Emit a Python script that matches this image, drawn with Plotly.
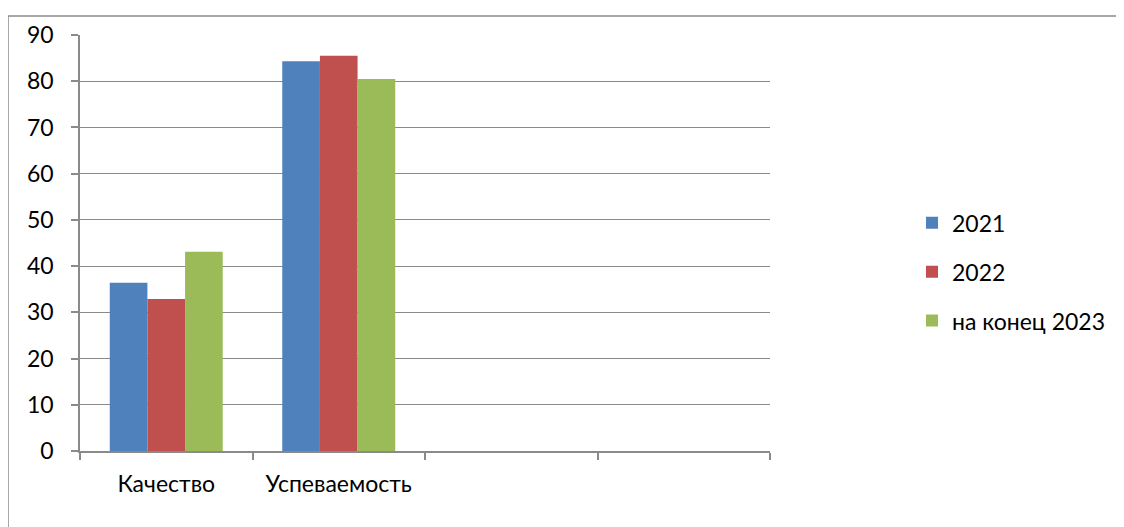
import plotly.graph_objects as go

categories = ["Качество", "Успеваемость", "cat3", "cat4"]
category_labels = ["Качество", "Успеваемость", "", ""]
series_names = ["2021", "2022", "на конец 2023"]
values_2021 = [36.4, 84.3, None, None]
values_2022 = [32.9, 85.5, None, None]
values_2023 = [43.1, 80.5, None, None]
colors = ["#4F81BD", "#C0504D", "#9BBB59"]

# page body has an 8px margin, so the figure starts at (8, 8) on screen
OFF = 8
W, H = 1124 - OFF, 527 - OFF
L, R, T, B = 80 - OFF, 770 - OFF, 33 - OFF, 451 - OFF

fig = go.Figure()
for name, vals, col in zip(series_names, [values_2021, values_2022, values_2023], colors):
    fig.add_trace(go.Bar(x=categories, y=vals, name=name, marker=dict(color=col, line=dict(width=0)),
                         legendgroup=name))

grid = "#8a8a8a"
font = dict(family="Lato, 'Open Sans', sans-serif", size=23, color="#000000")

fig.update_layout(
    width=W, height=H,
    margin=dict(l=L, r=W - R, t=T, b=H - B),
    paper_bgcolor="white", plot_bgcolor="white",
    barmode="group", bargap=0.345, bargroupgap=0,
    font=font,
    showlegend=True,
    legend=dict(x=(912 - OFF - L) / (R - L), y=(B - (271 - OFF)) / (B - T), xanchor="left", yanchor="middle",
                tracegroupgap=16, font=font, bgcolor="rgba(0,0,0,0)", itemwidth=30),
    xaxis=dict(type="category", categoryorder="array", categoryarray=categories,
               tickmode="array", tickvals=categories, ticktext=category_labels,
               tickson="boundaries", ticks="outside", ticklen=7, tickcolor=grid, tickwidth=1.5,
               showline=True, linecolor=grid, linewidth=1.5, showgrid=False,
               range=[-0.5, 3.5], ticklabelstandoff=12, tickfont=font),
    yaxis=dict(range=[0, 90], tickvals=list(range(0, 91, 10)), ticks="outside", ticklen=7,
               tickcolor=grid, tickwidth=1.5, showline=True, linecolor=grid, linewidth=1.5,
               showgrid=True, gridcolor=grid, gridwidth=1.2, zeroline=False,
               ticklabelstandoff=13, tickfont=font),
)

# outer chart-area frame (top and left edges visible)
fy = (B - (14 - OFF)) / (B - T)
fx = (8 - OFF - L) / (R - L)
fig.add_shape(type="line", xref="paper", yref="paper",
              x0=fx, x1=(W + 10 - L) / (R - L), y0=fy, y1=fy,
              line=dict(color=grid, width=1.5))
fig.add_shape(type="line", xref="paper", yref="paper",
              x0=fx, x1=fx, y0=fy, y1=(B - (H + 20)) / (B - T),
              line=dict(color=grid, width=1.5))

fig.write_html("out.html")
